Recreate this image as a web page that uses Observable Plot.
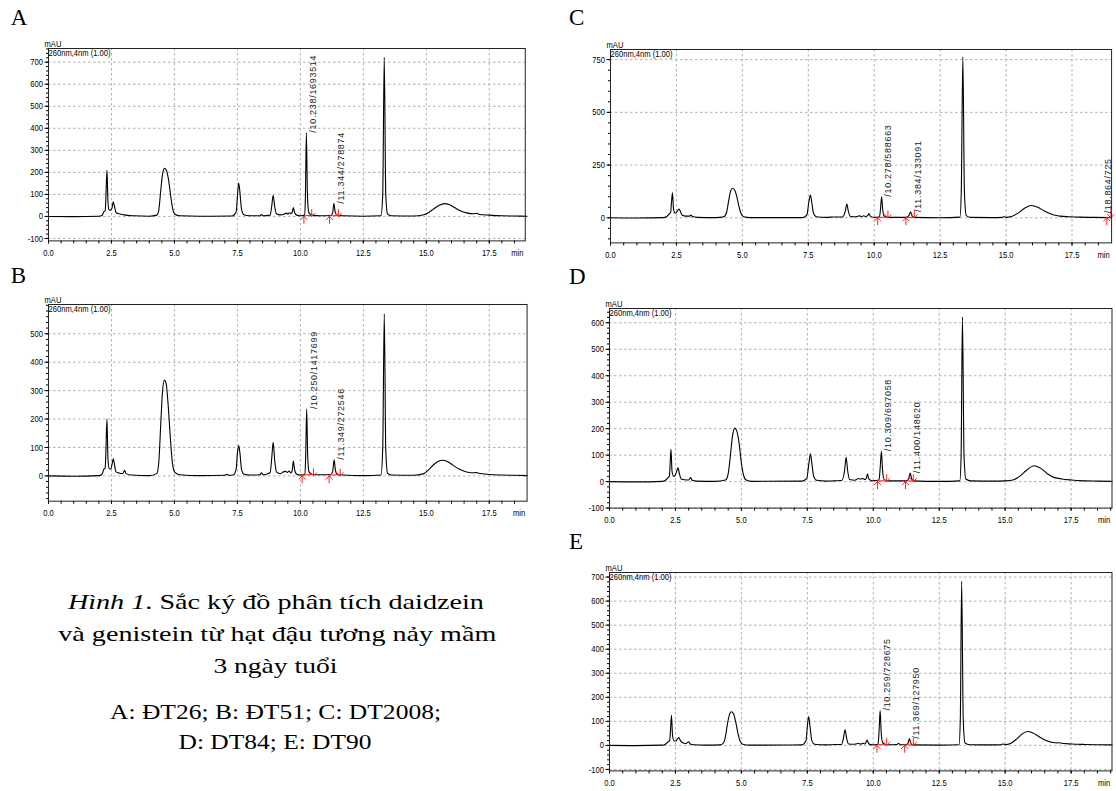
<!DOCTYPE html>
<html><head><meta charset="utf-8">
<script src="https://cdn.jsdelivr.net/npm/d3@7"></script>
<script src="https://cdn.jsdelivr.net/npm/@observablehq/plot@0.6"></script>
<style>
html,body{margin:0;padding:0;background:#fff;overflow:hidden}
#fig{position:relative;width:1116px;height:791px;overflow:hidden;background:#fff}
#fig svg{position:absolute}
</style></head><body><div id="fig"></div>
<script>
// ---------- data (time in min, signal in mAU) ----------
const traceA = [[0,0],[1.0,-1],[2.0,1],[2.12,4],[2.2,22],[2.25,26],[2.28,90],[2.32,210],[2.36,70],[2.4,30],[2.46,28],[2.52,38],[2.57,66],[2.62,45],[2.68,18],[2.8,12],[3.0,7],[3.4,3],[4.0,1],[4.3,6],[4.38,30],[4.45,110],[4.52,185],[4.6,218],[4.68,210],[4.76,170],[4.85,95],[4.93,35],[5.02,10],[5.2,3],[6.0,1],[7.3,2],[7.45,20],[7.5,90],[7.55,152],[7.6,110],[7.66,35],[7.75,8],[8.0,3],[8.4,3],[8.45,9],[8.52,3],[8.8,6],[8.86,45],[8.92,96],[8.98,45],[9.05,12],[9.2,7],[9.35,10],[9.45,15],[9.5,10],[9.56,17],[9.62,12],[9.68,20],[9.72,40],[9.77,18],[9.85,6],[10.0,3],[10.17,6],[10.2,90],[10.238,380],[10.28,100],[10.33,20],[10.45,6],[10.8,3],[11.2,4],[11.28,15],[11.33,58],[11.38,22],[11.45,6],[11.7,3],[12.5,1],[13.2,3],[13.27,100],[13.33,722],[13.39,100],[13.46,12],[13.6,3],[14.5,2],[14.9,8],[15.1,18],[15.3,35],[15.5,50],[15.72,58],[15.9,54],[16.1,42],[16.3,28],[16.6,16],[16.9,12],[17.0,14],[17.08,10],[17.5,6],[18.0,3],[18.5,2],[19.0,1]];
const traceB = [[0,0],[1,-1],[2.0,1],[2.12,5],[2.2,24],[2.25,28],[2.28,90],[2.32,200],[2.36,60],[2.41,25],[2.47,24],[2.52,40],[2.57,60],[2.62,40],[2.68,14],[2.8,10],[2.95,8],[3.02,20],[3.08,8],[3.3,3],[4.0,1],[4.3,8],[4.38,50],[4.45,170],[4.52,290],[4.6,337],[4.67,325],[4.75,250],[4.84,130],[4.92,45],[5.02,12],[5.2,4],[6.0,1],[7.0,2],[7.08,6],[7.15,2],[7.35,4],[7.45,25],[7.5,80],[7.55,107],[7.6,80],[7.66,25],[7.75,7],[8.0,3],[8.4,4],[8.45,11],[8.52,4],[8.65,6],[8.8,12],[8.86,60],[8.92,118],[8.98,55],[9.05,14],[9.2,8],[9.35,15],[9.42,16],[9.48,12],[9.55,17],[9.62,10],[9.68,22],[9.72,52],[9.77,22],[9.85,6],[10.0,3],[10.18,6],[10.21,70],[10.25,235],[10.29,70],[10.34,15],[10.45,6],[10.8,4],[11.2,4],[11.28,15],[11.34,57],[11.39,20],[11.46,5],[11.7,3],[12.5,1],[13.2,3],[13.27,100],[13.33,570],[13.39,90],[13.46,10],[13.6,3],[14.5,2],[14.9,8],[15.1,22],[15.3,40],[15.5,52],[15.65,55],[15.85,50],[16.05,38],[16.3,24],[16.6,14],[16.9,11],[17.0,12],[17.08,9],[17.5,5],[18.0,3],[18.5,2],[19.0,1]];
const traceC = [[0,0],[1,-1],[2.0,1],[2.12,5],[2.22,18],[2.28,25],[2.31,70],[2.35,118],[2.39,40],[2.45,22],[2.5,25],[2.55,35],[2.6,42],[2.65,30],[2.72,12],[2.85,8],[3.0,8],[3.05,13],[3.1,6],[3.3,2],[4.0,1],[4.3,5],[4.4,25],[4.48,80],[4.55,125],[4.62,140],[4.7,133],[4.78,105],[4.87,55],[4.95,20],[5.05,5],[5.3,1],[7.3,1],[7.45,15],[7.52,75],[7.58,108],[7.63,75],[7.7,20],[7.8,5],[8.2,2],[8.45,4],[8.8,4],[8.9,30],[8.96,65],[9.02,30],[9.1,6],[9.3,5],[9.45,9],[9.52,6],[9.6,10],[9.67,6],[9.75,10],[9.8,20],[9.85,8],[10.0,2],[10.2,5],[10.24,45],[10.28,100],[10.32,40],[10.38,8],[10.5,2],[11.2,2],[11.3,8],[11.38,28],[11.43,10],[11.5,2],[12.5,0],[13.25,3],[13.3,120],[13.36,762],[13.42,120],[13.49,10],[13.65,2],[14.5,1],[14.85,2],[14.92,5],[15.0,2],[15.2,6],[15.45,22],[15.7,45],[15.95,58],[16.2,50],[16.45,32],[16.7,18],[16.95,10],[17.05,8],[17.4,5],[17.8,3],[18.3,2],[19.0,1]];
const traceD = [[0,0],[1,-1],[2.0,1],[2.12,5],[2.22,15],[2.27,20],[2.3,70],[2.33,123],[2.37,40],[2.43,20],[2.48,22],[2.55,40],[2.6,52],[2.65,30],[2.72,10],[2.85,7],[3.0,6],[3.08,15],[3.13,5],[3.3,2],[4.0,1],[4.4,6],[4.5,30],[4.58,95],[4.66,170],[4.75,202],[4.83,190],[4.92,140],[5.0,70],[5.08,25],[5.18,6],[5.4,1],[7.3,2],[7.48,12],[7.56,70],[7.62,105],[7.67,70],[7.74,20],[7.85,5],[8.2,2],[8.5,3],[8.8,4],[8.91,40],[8.97,92],[9.03,40],[9.1,8],[9.3,5],[9.45,12],[9.52,9],[9.6,12],[9.68,8],[9.74,14],[9.78,30],[9.83,10],[9.95,3],[10.22,6],[10.26,50],[10.31,115],[10.35,45],[10.41,8],[10.55,3],[11.25,3],[11.34,10],[11.4,32],[11.45,12],[11.52,3],[12.5,1],[13.28,3],[13.33,100],[13.38,622],[13.44,100],[13.51,10],[13.7,3],[14.5,2],[15.0,3],[15.3,6],[15.55,20],[15.8,42],[16.1,60],[16.35,50],[16.6,30],[16.85,16],[17.05,12],[17.15,10],[17.5,6],[18.0,3],[18.5,2],[19.05,1]];
const traceE = [[0,0],[1,-1],[2.0,1],[2.12,5],[2.22,15],[2.28,20],[2.31,60],[2.35,125],[2.39,40],[2.45,18],[2.52,18],[2.58,28],[2.63,33],[2.68,22],[2.75,12],[2.9,8],[3.0,15],[3.06,6],[3.2,3],[3.6,1],[4.2,2],[4.32,10],[4.4,40],[4.48,95],[4.56,132],[4.62,140],[4.7,132],[4.78,100],[4.87,50],[4.95,18],[5.05,5],[5.3,1],[7.3,2],[7.45,20],[7.5,80],[7.55,120],[7.6,80],[7.67,20],[7.77,5],[8.2,2],[8.4,3],[8.8,4],[8.87,30],[8.93,65],[8.99,30],[9.06,6],[9.3,5],[9.45,8],[9.52,5],[9.6,9],[9.67,6],[9.72,12],[9.77,22],[9.82,8],[9.95,2],[10.18,5],[10.22,60],[10.26,145],[10.3,55],[10.36,10],[10.5,3],[10.9,4],[10.96,9],[11.02,3],[11.25,3],[11.32,10],[11.37,28],[11.42,10],[11.5,2],[12.5,1],[13.25,3],[13.3,110],[13.35,682],[13.41,110],[13.48,10],[13.65,3],[14.5,2],[14.85,3],[14.92,6],[15.0,3],[15.2,8],[15.45,28],[15.65,48],[15.85,58],[16.05,52],[16.3,35],[16.55,20],[16.8,12],[17.0,10],[17.05,12],[17.12,9],[17.5,6],[18.0,4],[18.5,3],[19.05,2]];

// peak labels: [time, label height (mAU), text]
const labelsA = [[10.238, 380, "/10.238/1693514"], [11.344, 58, "/11.344/278874"]];
const labelsB = [[10.250, 235, "/10.250/1417699"], [11.349, 57, "/11.349/272546"]];
const labelsC = [[10.278, 100, "/10.278/588663"], [11.384, 28, "/11.384/133091"], [18.864, 21, "/18.864/725"]];
const labelsD = [[10.309, 115, "/10.309/697058"], [11.400, 32, "/11.400/148620"]];
const labelsE = [[10.259, 145, "/10.259/728675"], [11.369, 28, "/11.369/127950"]];

// integration start / end: [start, end, start level, end level]
const integA = [[10.14, 10.45, 3, 5], [11.16, 11.51, 3, 4]];
const integB = [[10.07, 10.52, 3, 5], [11.14, 11.58, 3, 4]];
const integC = [[10.13, 10.52, 2, 3], [11.20, 11.52, 2, 2], [18.82, 18.97, 1, 1]];
const integD = [[10.16, 10.51, 3, 3], [11.22, 11.52, 2, 3]];
const integE = [[10.14, 10.51, 3, 3], [11.19, 11.52, 2, 2]];

// axes
const xTicks = [0, 2.5, 5, 7.5, 10, 12.5, 15, 17.5];
const yTicksA = [-100, 0, 100, 200, 300, 400, 500, 600, 700];
const yTicksB = [0, 100, 200, 300, 400, 500];
const yTicksC = [0, 250, 500, 750];
const yTicksD = [-100, 0, 100, 200, 300, 400, 500, 600];
const yTicksE = [-100, 0, 100, 200, 300, 400, 500, 600, 700];
const yDomains = {A: [-111, 762], B: [-89, 603], C: [-119, 798], D: [-100, 654], E: [-106, 719]};
const xDomains = {A: [0, 18.93], B: [0, 19.0], C: [0, 19.0], D: [0, 19.05], E: [0, 19.05]};
const panelLetters = ["A", "B", "C", "D", "E"];
const detectorText = "260nm,4nm (1.00)";
const yUnit = "mAU", xUnit = "min";
const captionLines = ["Sắc ký đồ phân tích daidzein", "và genistein từ hạt đậu tương nảy mầm", "3 ngày tuổi"];
const captionLead = "Hình 1";
const legendLines = ["A: ĐT26; B: ĐT51; C: DT2008;", "D: DT84; E: DT90"];

// ---------- layout (pixel frames: left, top, right, bottom) ----------
const layout = {
  A: {frame: [48.2, 48.3, 525.0, 240.7], letter: [10.7, 25]},
  B: {frame: [48.2, 304.0, 526.8, 500.7], letter: [10.7, 282.7]},
  C: {frame: [609.6, 49.3, 1110.7, 242.7], letter: [568.9, 25]},
  D: {frame: [608.9, 307.7, 1111.4, 507.3], letter: [568.9, 284]},
  E: {frame: [608.9, 572.3, 1111.4, 770.7], letter: [568.9, 549.3]}
};

const fig = document.getElementById("fig");
const smallFont = "'Liberation Sans', Arial, sans-serif";
const narrow = 0.8;

function squeeze(node, k) {
  const el = d3.select(node);
  const x = +el.attr("x") || 0, y = +el.attr("y") || 0;
  const tr = el.attr("transform") || "";
  el.attr("transform", `${tr} translate(${x},${y}) scale(${k},1) translate(${-x},${-y})`);
}

function panel(key, trace, labels, integ, yTicks, yStep) {
  const [l, t, r, b] = layout[key].frame;
  const mL = 50, mT = 25, mR = 12, mB = 28;
  const W = (r - l) + mL + mR, H = (b - t) + mT + mB;
  const rows = trace.map(([x, y]) => ({x, y}));
  const xd = xDomains[key], yd = yDomains[key];
  const lab = labels.map(([x, y, s]) => ({x, y, s}));
  const labIn = lab.filter(d => d.x < xd[1] - 0.3);
  const labEdge = lab.filter(d => d.x >= xd[1] - 0.3);
  const xMinor = d3.range(0, xd[1], 0.5);
  const yMinor = d3.range(Math.ceil(yd[0] / yStep) * yStep, yd[1], yStep);
  const grid = {stroke: "#a8a8a8", strokeOpacity: 1, strokeDasharray: "2.5,2.5", strokeWidth: 0.9};
  const labStyle = {x: "x", y: "y", text: "s", rotate: -90, textAnchor: "start", lineAnchor: "middle", fontSize: 9, fontFamily: "'Liberation Sans', Arial, sans-serif", fill: "#222"};
  const svg = Plot.plot({
    width: W, height: H,
    marginLeft: mL, marginTop: mT, marginRight: mR, marginBottom: mB,
    x: {domain: xd, label: null},
    y: {domain: yd, label: null},
    style: {fontFamily: smallFont, fontSize: "9.5px", color: "#000", background: "none", overflow: "visible"},
    marks: [
      Plot.gridX(xTicks, grid),
      Plot.gridY(yTicks, grid),
      Plot.axisX(xMinor, {anchor: "bottom", tickSize: 3, text: null, label: null}),
      Plot.axisX(xTicks, {anchor: "bottom", tickSize: 3, tickPadding: 5, tickFormat: d => d.toFixed(1), label: null}),
      Plot.axisY(yMinor, {anchor: "left", tickSize: 2, text: null, label: null}),
      Plot.axisY(yTicks, {anchor: "left", tickSize: 3.5, tickPadding: 2, tickFormat: d => String(d), label: null}),
      Plot.line(rows, {x: "x", y: "y", curve: "monotone-x", stroke: "#000", strokeWidth: 1.1}),
      Plot.link(integ, {x1: d => d[0], y1: d => d[2], x2: d => d[1], y2: d => d[3], stroke: "#ff2020", strokeWidth: 1}),
      Plot.vector(integ, {x: d => d[0], y: () => 0, rotate: 0, length: 7, anchor: "end", r: 8, stroke: "#ff2020", strokeWidth: 1}),
      Plot.vector(integ, {x: d => d[1], y: () => 0, rotate: 180, length: 7, anchor: "end", r: 8, stroke: "#ff2020", strokeWidth: 1}),
      Plot.text(labIn, {...labStyle, dx: 7}),
      Plot.text(labEdge, {...labStyle, dx: 0}),
      Plot.frame({stroke: "#222", strokeWidth: 1}),
      Plot.text([detectorText], {frameAnchor: "top-left", textAnchor: "start", lineAnchor: "top", dx: 0, dy: 1}),
      Plot.text([yUnit], {frameAnchor: "top-left", textAnchor: "start", lineAnchor: "bottom", dx: -4, dy: -1.5}),
      Plot.text([xUnit], {frameAnchor: "bottom-right", textAnchor: "middle", lineAnchor: "top", dx: -8, dy: 8})
    ]
  });
  d3.select(svg).selectAll("text").each(function () {
    if (this.textContent.startsWith("/")) d3.select(this).attr("letter-spacing", "0.7");
    else squeeze(this, narrow);
  });
  svg.style.left = (l - mL) + "px";
  svg.style.top = (t - mT) + "px";
  svg.style.maxWidth = "none";
  fig.appendChild(svg);
}

panel("A", traceA, labelsA, integA, yTicksA, 20);
panel("B", traceB, labelsB, integB, yTicksB, 20);
panel("C", traceC, labelsC, integC, yTicksC, 50);
panel("D", traceD, labelsD, integD, yTicksD, 20);
panel("E", traceE, labelsE, integE, yTicksE, 20);

// ---------- letters and caption ----------
const ov = d3.select(fig).append("svg").attr("width", 1116).attr("height", 791)
  .style("left", "0px").style("top", "0px").style("pointer-events", "none");
const serif = "'Liberation Serif', 'Times New Roman', serif";
panelLetters.forEach(k => {
  ov.append("text").attr("x", layout[k].letter[0]).attr("y", layout[k].letter[1])
    .attr("font-family", serif).attr("font-size", 23).text(k);
});
const capSpecs = [
  {cx: 275.9, y: 609.3, len: 416, fs: 22},
  {cx: 277.3, y: 641, len: 438, fs: 22},
  {cx: 275.4, y: 673, len: 124, fs: 22}
];
capSpecs.forEach((s, i) => {
  const tx = ov.append("text").attr("x", s.cx - s.len / 2).attr("y", s.y)
    .attr("font-family", serif).attr("font-size", s.fs)
    .attr("textLength", s.len).attr("lengthAdjust", "spacingAndGlyphs");
  if (i === 0) {
    tx.append("tspan").attr("font-style", "italic").text(captionLead);
    tx.append("tspan").text(". " + captionLines[0]);
  } else tx.text(captionLines[i]);
});
const legSpecs = [{cx: 275.5, y: 719, len: 331, fs: 21}, {cx: 275, y: 749.3, len: 193, fs: 21}];
legSpecs.forEach((s, i) => {
  ov.append("text").attr("x", s.cx - s.len / 2).attr("y", s.y)
    .attr("font-family", serif).attr("font-size", s.fs)
    .attr("textLength", s.len).attr("lengthAdjust", "spacingAndGlyphs").text(legendLines[i]);
});
</script></body></html>
